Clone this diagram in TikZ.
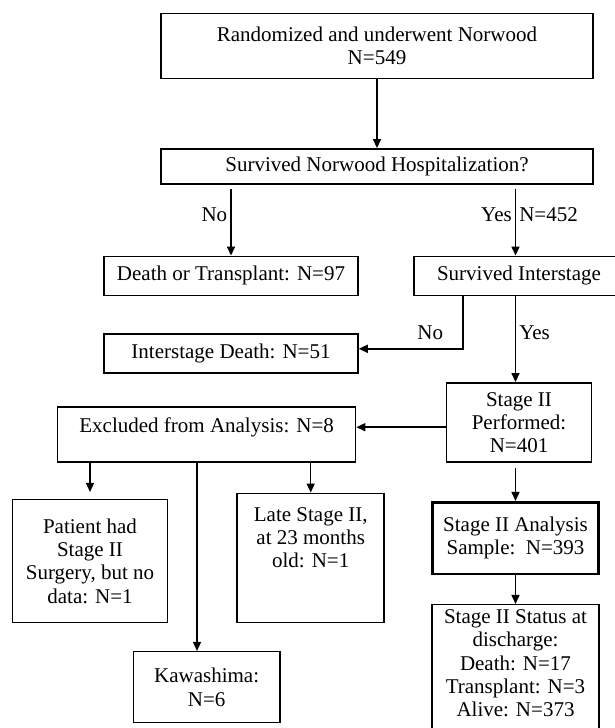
\documentclass[tikz,border=0pt]{standalone}
\usepackage{fontspec}
\setmainfont{Liberation Serif}
\usetikzlibrary{shapes, arrows.meta, positioning, calc}
\tikzset{%
>={Triangle[width=8pt,length=9pt]},
% Specifications for style of nodes:
base/.style = {draw, line width=1.5pt, align=center, font=\fontsize{21}{23.3}\selectfont},
flowbox/.style = {base, rectangle, inner sep=0pt},
thickbox/.style = {flowbox, line width=2.6pt},
lbl/.style = {inner sep=3pt, font=\fontsize{21}{23.3}\selectfont},
}

\begin{document}
\begin{tikzpicture}[line width=1.5pt]
    \useasboundingbox (0,0) rectangle (615pt,-728pt);
    % Specification of nodes (position, etc.)
    \node (start) [flowbox, minimum width=432pt, minimum height=65pt] at (377pt,-45.8pt) {Randomized and underwent Norwood\\N=549};
    \node (hosp) [flowbox, minimum width=432pt, minimum height=35.4pt, below=69pt of start] {Survived Norwood Hospitalization?};
    \node (death97) [flowbox, minimum width=254pt, minimum height=39pt, below=70.6pt of hosp, xshift=-146pt] {Death or Transplant: N=97};
    \node (inter) [flowbox, minimum width=210pt, minimum height=39pt, below=70.6pt of hosp, xshift=142pt] {Survived Interstage};
    \node (death51) [flowbox, minimum width=254pt, minimum height=39pt, below=37pt of death97] {Interstage Death: N=51};
    \node (stage2) [flowbox, minimum width=145pt, minimum height=79.4pt, below=86pt of inter] {Stage II\\Performed:\\N=401};
    \node (excl) [flowbox, minimum width=298pt, text height=25.7pt, text depth=29.7pt, left=89.4pt of stage2.south west, anchor=south east] {Excluded from Analysis: N=8};
    \node (nodata) [flowbox, minimum width=155pt, minimum height=123.3pt, below=35.6pt of excl, xshift=-116.6pt] {Patient had\\Stage II\\Surgery, but no\\data: N=1};
    \node (late) [flowbox, minimum width=147pt, text height=74.6pt, text depth=54.7pt, below=29.6pt of excl, xshift=104.1pt] {Late Stage II,\\at 23 months\\old: N=1};
    \node (kawa) [flowbox, minimum width=146.5pt, minimum height=71pt, below=188pt of excl] {Kawashima:\\N=6};
    \node (sample) [thickbox, minimum width=166.5pt, minimum height=71.7pt, below=38pt of stage2, xshift=-3.5pt] {Stage II Analysis\\Sample:\ \ N=393};
    \node (status) [flowbox, minimum width=166.6pt, inner ysep=5pt, text depth=26pt, below=28.7pt of sample] {Stage II Status at\\discharge:\\Death: N=17\\Transplant: N=3\\Alive: N=373};

    \draw [->] (start) -- (hosp);
    \draw [->, shorten <=4pt] (hosp.south -| death97) -- (death97) node[lbl, pos=0.42, left]{No};
    \draw [->, shorten <=4pt] (hosp.south -| sample) -- (inter.north -| sample) node[lbl, pos=0.42, left]{Yes} node[lbl, pos=0.42, right]{N=452};
    \draw [->] ([xshift=49.5pt]inter.south west) |- ([yshift=4.5pt]death51.east) node[lbl, pos=0.35, left=16pt]{No};
    \draw [->] (inter.south -| sample) -- (stage2.north -| sample) node[lbl, pos=0.43, right]{Yes};
    \draw [->] ([yshift=-4.7pt]stage2.west) -- ([yshift=-4.7pt]stage2.west -| excl.east);
    \draw [->, shorten >=6.6pt] (excl.south -| nodata) -- (nodata);
    \draw [->] (excl.south -| late) -- (late);
    \draw [->] ([xshift=-9.6pt]excl.south) -- ([xshift=-9.6pt]excl.south |- kawa.north);
    \draw [->, shorten <=5pt] (stage2.south -| sample) -- (sample);
    \draw [->] (sample) -- (status);
\end{tikzpicture}
\end{document}
